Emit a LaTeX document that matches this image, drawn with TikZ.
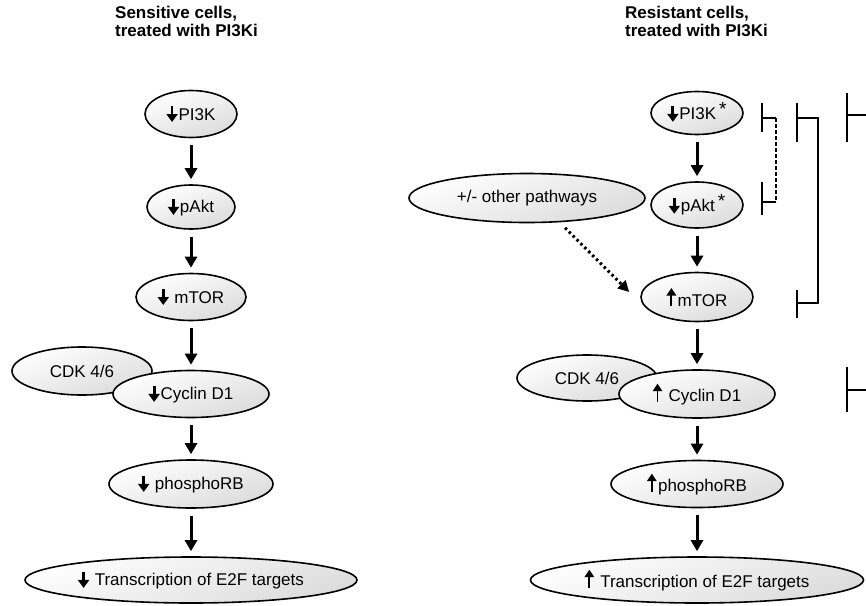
\documentclass[tikz,border=0pt]{standalone}
\usepackage{fontspec}
\setmainfont{Liberation Sans}
\usetikzlibrary{arrows.meta,calc,shapes.geometric}
\newcommand{\arrDn}{\tikz[baseline=0pt,x=1pt,y=1pt]\draw[line width=2.8pt,-{Triangle[length=8pt,width=11pt]}] (0,14) -- (0,-2);\hspace{1pt}}
\newcommand{\arrUp}{\tikz[baseline=0pt,x=1pt,y=1pt]\draw[line width=1.8pt,-{Triangle[length=7.5pt,width=9.5pt]}] (0,0) -- (0,18);\hspace{1.5pt}}
\newcommand{\astk}{\hspace{3pt}\raisebox{4pt}{\fontsize{19}{19}\selectfont *}}
\begin{document}
\begin{tikzpicture}[x=1pt,y=-1pt,
  ell/.style={ellipse, draw, line width=1.6pt, inner sep=0pt,
    top color=white, bottom color=black!14, shading angle=20,
    font=\fontsize{17}{19}\selectfont},
  arr/.style={line width=3pt, -{Triangle[length=11pt,width=12pt]},
    shorten <=7pt, shorten >=5pt},
  dotarr/.style={line width=3pt, dash pattern=on 2.5pt off 3pt,
    -{Triangle[length=11pt,width=11pt]}},
  inh/.style={line width=2pt},
  inhdash/.style={line width=1.4pt, dash pattern=on 4pt off 2pt},
  ttl/.style={anchor=base west, inner sep=0pt, font=\bfseries\fontsize{17}{19}\selectfont}]
\useasboundingbox (0,0) rectangle (866,605);

% titles
\node[ttl] (tl1) at (115,18) {Sensitive cells,};
\node[ttl] (tl2) at (115,36) {treated with PI3Ki};
\node[ttl] (tr1) at (625,18) {Resistant cells,};
\node[ttl] (tr2) at (625,36) {treated with PI3Ki};

% left column
\node[ell, minimum width=92pt, minimum height=47pt] (pi3kL) at (191,114) {\arrDn PI3K};
\node[ell, minimum width=88pt, minimum height=44pt] (paktL) at (191,207) {\arrDn pAkt};
\node[ell, minimum width=110pt, minimum height=47pt] (mtorL) at (191,297) {\arrDn\ mTOR};
\node[ell, minimum width=140pt, minimum height=48pt] (cdkL) at (82,371) {CDK 4/6};
\node[ell, minimum width=156pt, minimum height=47pt] (cyclL) at (191,394) {\arrDn Cyclin D1};
\node[ell, minimum width=164pt, minimum height=48pt] (prbL) at (191,484) {\arrDn\ phosphoRB};
\node[ell, minimum width=332pt, minimum height=46pt] (e2fL) at (191,580) {\arrDn\ Transcription of E2F targets};

\draw[arr] (pi3kL) -- (paktL);
\draw[arr] (paktL) -- (mtorL);
\draw[arr] (mtorL) -- (cyclL);
\draw[arr] (cyclL) -- (prbL);
\draw[arr] (prbL) -- (e2fL);

% right column
\node[ell, minimum width=92pt, minimum height=43pt] (pi3kR) at (697,113) {\arrDn PI3K\astk};
\node[ell, minimum width=92pt, minimum height=46pt] (paktR) at (697,205) {\arrDn pAkt\astk};
\node[ell, minimum width=112pt, minimum height=49pt] (mtorR) at (697,297) {\arrUp mTOR};
\node[ell, minimum width=140pt, minimum height=46pt] (cdkR) at (587,378) {CDK 4/6};
\node[ell, minimum width=156pt, minimum height=48pt] (cyclR) at (697,394) {\arrUp\ Cyclin D1};
\node[ell, minimum width=172pt, minimum height=47pt] (prbR) at (697,484) {\arrUp phosphoRB};
\node[ell, minimum width=333pt, minimum height=46pt] (e2fR) at (697,580) {\arrUp\ Transcription of E2F targets};
\node[ell, minimum width=236pt, minimum height=49pt] (op) at (527,198) {+/- other pathways};

\draw[arr] (pi3kR) -- (paktR);
\draw[arr] (paktR) -- (mtorR);
\draw[arr] (mtorR) -- (cyclR);
\draw[arr] (cyclR) -- (prbR);
\draw[arr] (prbR) -- (e2fR);

\coordinate (dotS) at ($(op.south)+(38,4.5)$);
\coordinate (dotE) at ($(mtorR.west)+(-11,-5)$);
\draw[dotarr] (dotS) -- (dotE);

% inhibition brackets
\draw[inh] (762,103) -- (762,132);
\draw[inh] (762,118) -- (776,118);
\draw[inhdash] (776,118) -- (776,202);
\draw[inh] (776,202) -- (762,202);
\draw[inh] (762,182) -- (762,215);

\draw[inh] (797,103) -- (797,142);
\draw[inh] (797,118) -| (818,303) -- (797,303);
\draw[inh] (797,290) -- (797,318);

\draw[inh] (847,93) -- (847,142);
\draw[inh] (847,115) -- (866,115);
\draw[inh] (847,367) -- (847,412);
\draw[inh] (847,390) -- (866,390);
\end{tikzpicture}
\end{document}
